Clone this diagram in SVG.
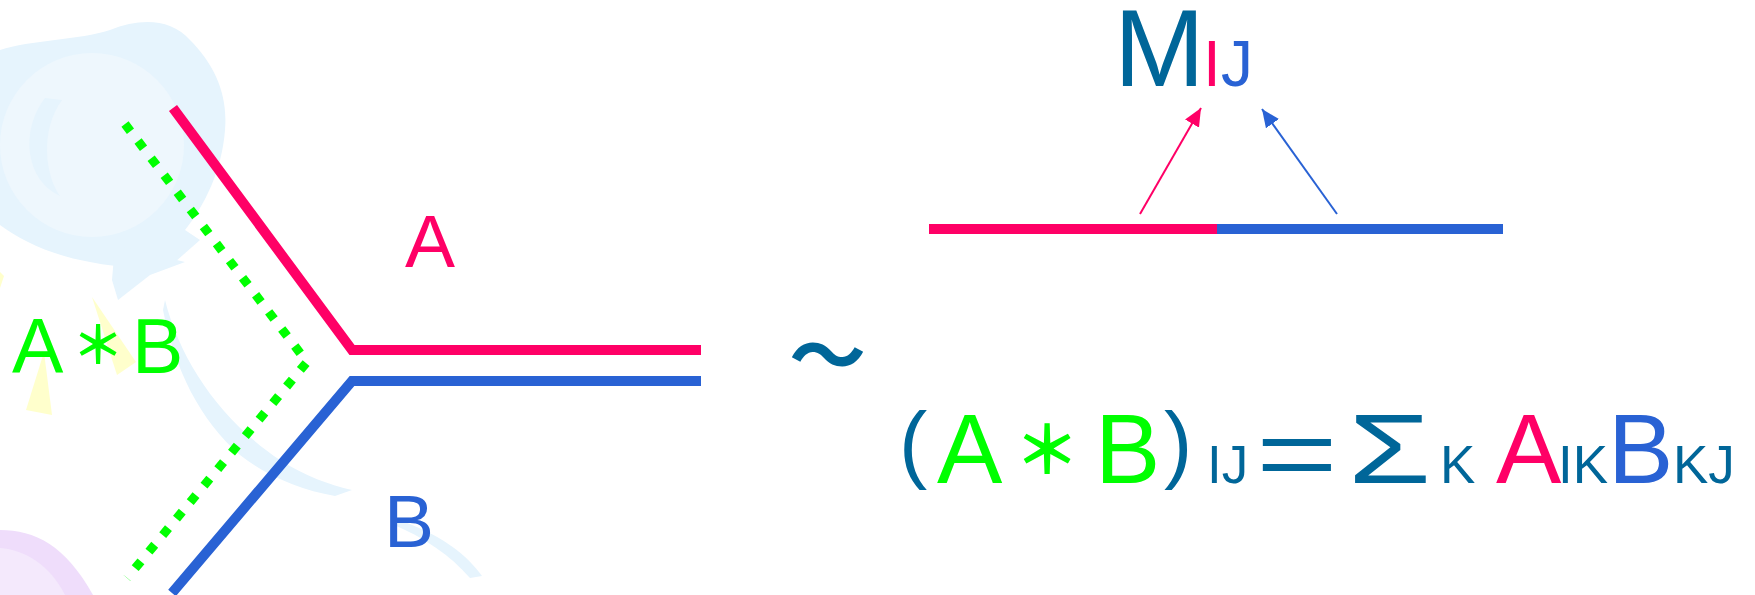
<svg xmlns="http://www.w3.org/2000/svg" width="1755" height="595" viewBox="0 0 1755 595">
  <style>
    .t { font-family: "Liberation Sans", Arial, sans-serif; }
    .cjk { font-family: "Noto Sans CJK JP", "Liberation Sans", sans-serif; }
    .red { fill: #FF0066; }
    .blue { fill: #2962D4; }
    .teal { fill: #006699; }
    .green { fill: #00FF00; }
    .bgblue { fill: #E6F4FD; }
  </style>
  <defs>
    <marker id="ahRed" markerUnits="userSpaceOnUse" markerWidth="20" markerHeight="16" refX="18" refY="8" orient="auto">
      <path d="M0,0 L18,8 L0,16 Z" fill="#FF0066"/>
    </marker>
    <marker id="ahBlue" markerUnits="userSpaceOnUse" markerWidth="20" markerHeight="16" refX="18" refY="8" orient="auto">
      <path d="M0,0 L18,8 L0,16 Z" fill="#2962D4"/>
    </marker>
  </defs>
  <rect width="1755" height="595" fill="#FFFFFF"/>

  <g id="background">
    <path class="bgblue" d="M0,50 C30,40 80,40 110,30 C140,18 170,18 190,40 C215,65 228,95 225,130 C222,170 205,205 185,230 L200,240 L175,262 C150,270 120,268 90,262 C50,255 20,240 0,225 Z"/>
    <circle cx="92" cy="145" r="92" fill="#EEF7FD"/>
    <path class="bgblue" d="M45,98 C20,130 25,180 60,196 C45,175 40,130 62,100 Z"/>
    <path class="bgblue" d="M115,245 L185,262 L150,275 L118,300 L112,280 Z"/>
    <path class="bgblue" d="M165,300 C180,360 220,420 280,460 C305,476 330,485 352,490 L335,496 C300,490 265,475 240,455 C200,420 175,370 163,310 Z"/>
    <path class="bgblue" d="M393,518 C430,530 462,548 482,576 L470,578 C450,555 425,538 392,524 Z"/>
    <path d="M92,297 L136,362 L117,375 Z" fill="#FFFFCC"/>
    <path d="M44,352 L52,415 L26,410 Z" fill="#FFFFCC"/>
    <path d="M0,272 L4,276 L0,288 Z" fill="#FFFFCC"/>
    <path d="M0,530 C35,530 65,545 93,595 L0,595 Z" fill="#EFDDFB"/>
    <path d="M0,548 C25,550 50,565 65,595 L0,595 Z" fill="#F4E9FC"/>
  </g>

  <g id="fork-A">
    <polyline points="173,108 352,350 701,350" fill="none" stroke="#FF0066" stroke-width="10" stroke-linejoin="miter"/>
  </g>
  <g id="fork-B">
    <polyline points="172,593 352,381 701,381" fill="none" stroke="#2962D4" stroke-width="10" stroke-linejoin="miter"/>
  </g>
  <g id="fork-AB">
    <polyline points="125,124 307,362 127,578" fill="none" stroke="#00FF00" stroke-width="9" stroke-dasharray="9 12.5"/>
  </g>

  <g id="label-A"><text class="t red" x="405" y="267" font-size="75">A</text></g>
  <g id="label-B"><text class="t blue" x="384" y="547" font-size="75">B</text></g>
  <g id="label-AB">
    <text class="t green" x="12" y="373" font-size="77">A</text>
    <text class="cjk green" x="98" y="364" font-size="52" font-weight="700" text-anchor="middle">＊</text>
    <text class="t green" x="132" y="373" font-size="77">B</text>
  </g>

  <g id="tilde"><text class="cjk teal" x="789" y="384" font-size="77" font-weight="700">～</text></g>

  <g id="bar">
    <line x1="929" y1="229" x2="1217" y2="229" stroke="#FF0066" stroke-width="10"/>
    <line x1="1217" y1="229" x2="1503" y2="229" stroke="#2962D4" stroke-width="10"/>
  </g>

  <g id="M-IJ">
    <text class="t teal" x="1114" y="86" font-size="109">M</text>
    <text class="t red" x="1203" y="86" font-size="64">I</text>
    <text class="t blue" x="1221" y="86" font-size="64">J</text>
  </g>

  <g id="connectors">
    <line x1="1140" y1="214" x2="1201" y2="108" stroke="#FF0066" stroke-width="2" marker-end="url(#ahRed)"/>
    <line x1="1337" y1="214" x2="1262" y2="109" stroke="#2962D4" stroke-width="2" marker-end="url(#ahBlue)"/>
  </g>

  <g id="formula">
    <text class="t teal" x="899" y="472" font-size="85">(</text>
    <text class="t green" x="937" y="483" font-size="98">A</text>
    <text class="cjk green" x="1047" y="474" font-size="66" font-weight="700" text-anchor="middle">＊</text>
    <text class="t green" x="1095" y="483" font-size="98">B</text>
    <text class="t teal" x="1164" y="472" font-size="85">)</text>
    <text class="t teal" x="1207" y="483" font-size="53">IJ</text>
    <text class="t teal" transform="translate(1256,488) scale(1.43,1)" x="0" y="0" font-size="98">=</text>
    <text class="t teal" transform="translate(1348,483) scale(1.37,1)" x="0" y="0" font-size="98">Σ</text>
    <text class="t teal" x="1440" y="483" font-size="53">K</text>
    <text class="t red" x="1496" y="483" font-size="98">A</text>
    <text class="t teal" x="1558" y="483" font-size="53">IK</text>
    <text class="t blue" x="1608" y="483" font-size="98">B</text>
    <text class="t teal" x="1673" y="483" font-size="53">KJ</text>
  </g>
</svg>
